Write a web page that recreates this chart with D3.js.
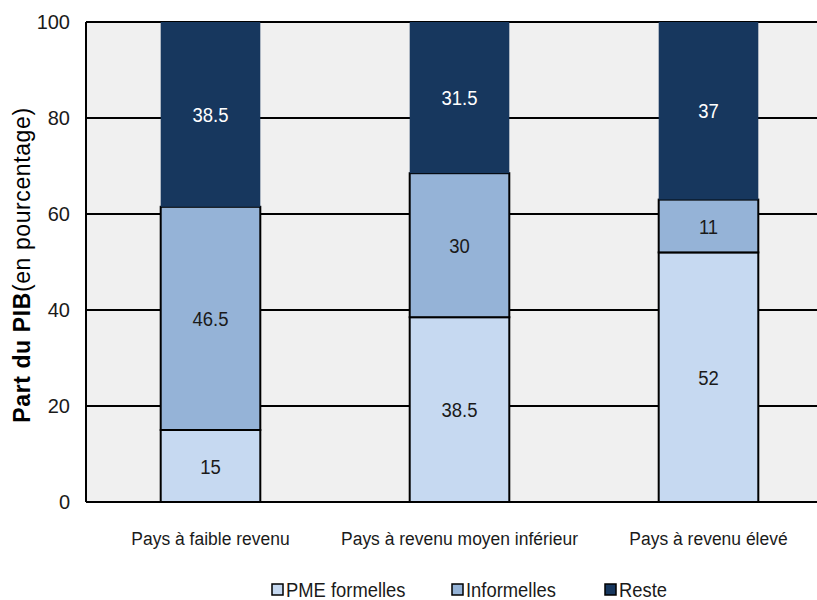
<!DOCTYPE html>
<html>
<head>
<meta charset="utf-8">
<script src="https://cdn.jsdelivr.net/npm/d3@7"></script>
<style>
  body { margin: 0; background: #fff; }
  text { font-family: "Liberation Sans", Arial, sans-serif; }
</style>
</head>
<body>
<div id="chart"></div>
<script>
const categories = ['Pays à faible revenu', 'Pays à revenu moyen inférieur', 'Pays à revenu élevé'];
const seriesNames = ['PME formelles', 'Informelles', 'Reste'];
const formelles = [15, 38.5, 52];
const informelles = [46.5, 30, 11];
const reste = [38.5, 31.5, 37];
const yTicks = [0, 20, 40, 60, 80, 100];

const colors = ['#c6d9f1', '#95b3d7', '#17375e'];

const width = 817, height = 600;
const margin = { top: 22, left: 86, bottom: 98 };
const plotW = 747; // plot area runs past the right edge of the picture
const plotH = height - margin.top - margin.bottom;

const data = categories.map((c, i) => ({
    cat: c, formelles: formelles[i], informelles: informelles[i], reste: reste[i]
}));
const keys = ['formelles', 'informelles', 'reste'];
const series = d3.stack().keys(keys)(data);

const svg = d3.select('#chart').append('svg')
    .attr('width', width)
    .attr('height', height);

const chart = svg.append('g')
    .attr('transform', `translate(${margin.left},${margin.top})`);

const x = d3.scaleBand().domain(categories).range([0, plotW]).paddingInner(0.6).paddingOuter(0.3);
const y = d3.scaleLinear().domain([0, 100]).range([plotH, 0]);

// plot background
chart.append('rect')
    .attr('width', plotW).attr('height', plotH)
    .attr('fill', '#f0f0f0');

// gridlines
chart.selectAll('.grid')
    .data(yTicks)
    .enter().append('line')
    .attr('x1', 0).attr('x2', plotW)
    .attr('y1', d => y(d)).attr('y2', d => y(d))
    .attr('stroke', '#000').attr('stroke-width', 2);

// bars
const groups = chart.selectAll('.series')
    .data(series)
    .enter().append('g')
    .attr('fill', (d, i) => colors[i]);

groups.selectAll('rect')
    .data(d => d.map(v => Object.assign(v, { key: d.key })))
    .enter().append('rect')
    .attr('x', d => x(d.data.cat))
    .attr('y', d => y(d[1]))
    .attr('width', x.bandwidth())
    .attr('height', d => y(d[0]) - y(d[1]))
    .attr('stroke', d => d.key === 'reste' ? 'none' : '#000')
    .attr('stroke-width', 2);

// value labels (slightly condensed like the original)
groups.selectAll('text')
    .data(d => d)
    .enter().append('text')
    .attr('transform', d => `translate(${x(d.data.cat) + x.bandwidth() / 2},${(y(d[0]) + y(d[1])) / 2}) scale(0.88,1)`)
    .attr('dy', '0.36em')
    .attr('text-anchor', 'middle')
    .attr('font-size', 21)
    .attr('fill', d => d.key === 'reste' ? '#fff' : '#1a1a1a')
    .text(d => d.data[d.key]);

// left edge of plot
chart.append('line').attr('x1', 0).attr('x2', 0).attr('y1', 0).attr('y2', plotH)
    .attr('stroke', '#000').attr('stroke-width', 2);

// y axis
const yAxis = d3.axisLeft(y).tickValues(yTicks).tickSize(0).tickPadding(16);
const yAxisG = chart.append('g').call(yAxis);
yAxisG.select('.domain').remove();
yAxisG.selectAll('text').attr('font-size', 20).attr('fill', '#1a1a1a')
    .style('font-family', '"Liberation Sans", Arial, sans-serif');

// x axis labels
const xAxis = d3.axisBottom(x).tickSize(0).tickPadding(30);
const xAxisG = chart.append('g').attr('transform', `translate(0,${plotH})`).call(xAxis);
xAxisG.select('.domain').remove();
xAxisG.selectAll('text').attr('font-size', 19).attr('fill', '#1a1a1a')
    .attr('transform', 'scale(0.92,1)')
    .style('font-family', '"Liberation Sans", Arial, sans-serif');

// y title
const yTitle = svg.append('text')
    .attr('transform', `translate(30,${margin.top + plotH / 2 + 3}) rotate(-90)`)
    .attr('text-anchor', 'middle')
    .attr('font-size', 23)
    .attr('fill', '#000')
    .style('letter-spacing', '0.6px')
    .style('font-family', '"Liberation Sans", Arial, sans-serif');
yTitle.append('tspan').attr('font-weight', 'bold').text('Part du PIB');
yTitle.append('tspan').text('(en pourcentage)');

// legend
const legendX = [272, 452, 605];
const legend = svg.selectAll('.legend')
    .data(seriesNames)
    .enter().append('g')
    .attr('transform', (d, i) => `translate(${legendX[i]},590)`);
legend.append('rect')
    .attr('x', 0).attr('y', -6).attr('width', 11).attr('height', 11)
    .attr('fill', (d, i) => colors[i])
    .attr('stroke', '#000').attr('stroke-width', 1.5);
legend.append('text')
    .attr('transform', 'translate(14,0) scale(0.92,1)')
    .attr('dy', '0.36em')
    .attr('font-size', 20)
    .attr('fill', '#1a1a1a')
    .text(d => d);
</script>
</body>
</html>
